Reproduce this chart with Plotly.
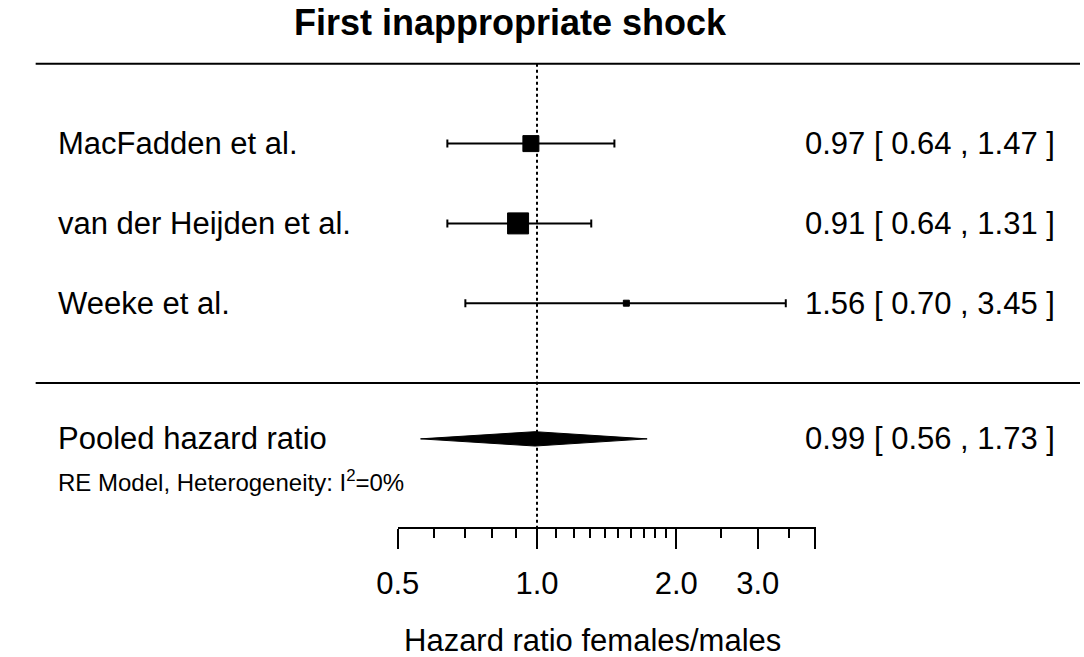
import plotly.graph_objects as go

# study-level hazard ratios (females/males), first inappropriate shock
studies = ["MacFadden et al.", "van der Heijden et al.", "Weeke et al."]
hr = [0.97, 0.91, 1.56]
ci_low = [0.64, 0.64, 0.70]
ci_high = [1.47, 1.31, 3.45]
box_size = [16, 21, 6]
rows = [3, 2, 1]

pooled_label = "Pooled hazard ratio"
pooled_hr = 0.99
pooled_low = 0.56
pooled_high = 1.73
pooled_row = -0.7

tick_vals = [0.5, 1.0, 2.0, 3.0, 4.0]
tick_text = ["0.5", "1.0", "2.0", "3.0", " "]
minor_vals = [0.6, 0.7, 0.8, 0.9, 1.1, 1.2, 1.3, 1.4, 1.5, 1.6, 1.7, 1.8, 1.9, 2.5, 3.5]

FONT = "Liberation Sans, Arial, sans-serif"
W, H = 1084, 657
px_per_row = 79.8
row0_px = 383


def row_of(px):
    return (row0_px - px) / px_per_row


def fmt(est, lo, hi):
    return f"{est:.2f} [ {lo:.2f} , {hi:.2f} ]"


def label(x, y, text, anchor, size=31, yref="y"):
    return dict(x=x, y=y, xref="paper", yref=yref, text=text,
                xanchor=anchor, yanchor="middle", showarrow=False,
                font=dict(size=size))


fig = go.Figure()

# reference line at HR = 1
fig.add_trace(go.Scatter(
    x=[1, 1], y=[4, row_of(528)], mode="lines",
    line=dict(color="black", width=2, dash="dot"),
    hoverinfo="skip", showlegend=False,
))

# individual studies
fig.add_trace(go.Scatter(
    x=hr, y=rows, mode="markers",
    marker=dict(symbol="square", size=box_size, color="black", opacity=1,
                line=dict(width=1, color="black")),
    error_x=dict(
        type="data", symmetric=False,
        array=[h - e for h, e in zip(ci_high, hr)],
        arrayminus=[e - l for e, l in zip(hr, ci_low)],
        color="black", thickness=2, width=4,
    ),
    showlegend=False,
))

# pooled estimate diamond
dh = 0.09
fig.add_trace(go.Scatter(
    x=[pooled_low, pooled_hr, pooled_high, pooled_hr, pooled_low],
    y=[pooled_row, pooled_row + dh, pooled_row, pooled_row - dh, pooled_row],
    mode="lines", fill="toself", fillcolor="black",
    line=dict(color="black", width=1), showlegend=False,
))

annotations = []
for name, r, e, lo, hi in zip(studies, rows, hr, ci_low, ci_high):
    annotations.append(label(35 / W, r, name, "left"))
    annotations.append(label(1060 / W, r, fmt(e, lo, hi), "right"))

annotations.append(label(35 / W, pooled_row, pooled_label, "left"))
annotations.append(label(1060 / W, pooled_row, fmt(pooled_hr, pooled_low, pooled_high), "right"))
annotations.append(label(35 / W, row_of(481), "RE Model, Heterogeneity: I<sup>2</sup>=0%", "left", size=24))
annotations.append(label(501 / W, 1 - 22 / H, "<b>First inappropriate shock</b>", "center", size=36, yref="paper"))
annotations.append(label(585 / W, 1 - 640 / H, "Hazard ratio females/males", "center", yref="paper"))

shapes = [
    dict(type="line", xref="paper", yref="y", x0=14 / W, x1=1, y0=4, y1=4,
         line=dict(color="black", width=2)),
    dict(type="line", xref="paper", yref="y", x0=14 / W, x1=1, y0=0, y1=0,
         line=dict(color="black", width=2)),
]

fig.update_layout(
    width=W, height=H,
    margin=dict(l=0, r=0, t=0, b=0),
    paper_bgcolor="white", plot_bgcolor="white",
    font=dict(family=FONT, color="black"),
    annotations=annotations, shapes=shapes,
    xaxis=dict(
        type="log", domain=[385 / W, 813 / W],
        range=[-0.30103, 0.60206],
        anchor="free", position=1 - 528 / H,
        showgrid=False, zeroline=False,
        showline=True, linecolor="black", linewidth=2,
        ticks="outside", ticklen=20, tickwidth=2, tickcolor="black",
        tickmode="array", tickvals=tick_vals, ticktext=tick_text,
        tickfont=dict(size=31), ticklabelstandoff=8,
        minor=dict(tickmode="array", tickvals=minor_vals, ticks="outside",
                   ticklen=9, tickwidth=2, tickcolor="black", showgrid=False),
    ),
    yaxis=dict(range=[row_of(H), row_of(0)], visible=False, domain=[0, 1]),
)

# drop the browser's default page margin so the figure sits at the window origin
fig.write_html("out.html", config={"displayModeBar": False},
               post_script="document.body.style.margin = '0';")
